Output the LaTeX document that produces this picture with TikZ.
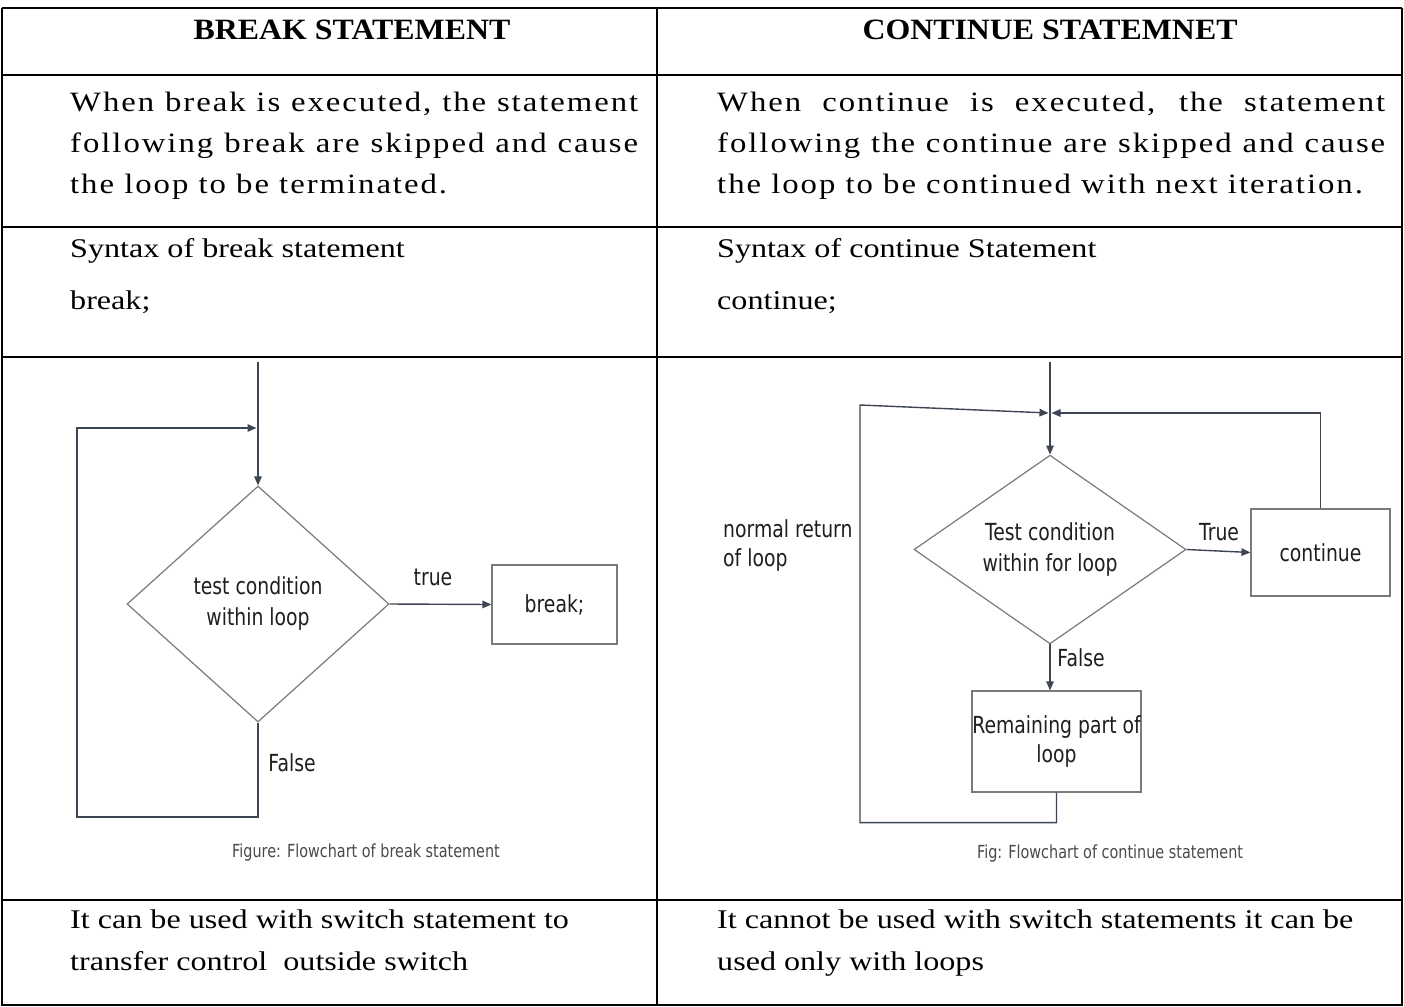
\documentclass[tikz,border=0pt]{standalone}
\usepackage{fontspec}
\setmainfont{Liberation Serif}[FakeStretch=1.19]
\newfontfamily\lsfont{Liberation Serif}[FakeStretch=1.17,LetterSpace=7]
\newfontfamily\hdrfont{Liberation Serif}[FakeStretch=1.08]
\newfontfamily\fcfont{DejaVu Sans}[FakeStretch=0.8]
\usetikzlibrary{shapes.geometric,arrows.meta}
\definecolor{lineC}{HTML}{3E4654}
\definecolor{boxC}{HTML}{7A7A7A}
\definecolor{txtC}{HTML}{1E1E1E}
\definecolor{capC}{HTML}{4A4A4A}
\tikzset{
  tabline/.style={line width=1.6pt,black},
  thickline/.style={line width=2.4pt,black},
  hdr/.style={font=\hdrfont\fontsize{29.5}{32}\selectfont\bfseries, anchor=base, inner sep=0pt},
  body/.style={font=\fontsize{27}{40}\selectfont, anchor=base west, inner sep=0pt},
  lsbody/.style={font=\lsfont\fontsize{28}{41}\selectfont, anchor=base west, inner sep=0pt},
  conn/.style={draw=lineC, line width=1.4pt},
  arr/.style={conn, -{Triangle[length=9pt,width=7.5pt]}},
  fclabel/.style={font=\fcfont\fontsize{23.5}{31}\selectfont, text=txtC, inner sep=0pt},
  diam/.style={shape=diamond, draw=boxC, line width=1.2pt, inner sep=0pt, align=center, fclabel},
  boxn/.style={draw=boxC, line width=1.2pt, inner sep=0pt, align=center, fclabel},
  capn/.style={font=\fcfont\fontsize{18}{20}\selectfont, text=capC, inner sep=0pt}
}
\begin{document}
\begin{tikzpicture}[x=1pt,y=-1pt]
\useasboundingbox (0,0) rectangle (1404,1006);
\fill[white] (0,0) rectangle (1404,1006);
% ---------- table ----------
\draw[thickline] (2,8) -- (1402,8);
\draw[tabline] (2,8) -- (2,1005) -- (1402,1005) -- (1402,8);
\draw[tabline] (657,8) -- (657,1005);
\draw[tabline] (2,75) -- (1402,75);
\draw[tabline] (2,227) -- (1402,227);
\draw[tabline] (2,357) -- (1402,357);
\draw[tabline] (2,900) -- (1402,900);
% ---------- header ----------
\node[hdr] (h1) at (352,40) {BREAK STATEMENT};
\node[hdr] (h2) at (1050,40) {CONTINUE STATEMNET};
% ---------- row 2 ----------
\node[lsbody] (l2a) at (70,111) {\makebox[568pt][s]{When break is executed, the statement}};
\node[lsbody] (l2b) at (70,152) {\makebox[568pt][s]{following break are skipped and cause}};
\node[lsbody] (l2c) at (70,193) {the loop to be terminated.};
\node[lsbody] (r2a) at (717,111) {\makebox[668pt][s]{When continue is executed, the statement}};
\node[lsbody] (r2b) at (717,152) {\makebox[668pt][s]{following the continue are skipped and cause}};
\node[lsbody] (r2c) at (717,193) {the loop to be continued with next iteration.};
% ---------- row 3 ----------
\node[body] (l3a) at (70,257) {Syntax of break statement};
\node[body] (l3b) at (70,309) {break;};
\node[body] (r3a) at (717,257) {Syntax of continue Statement};
\node[body] (r3b) at (717,309) {continue;};
% ---------- row 5 ----------
\node[body] (l5a) at (70,928) {It can be used with switch statement to};
\node[body] (l5b) at (70,970) {transfer control\ \ outside switch};
\node[body] (r5a) at (717,928) {It cannot be used with switch statements it can be};
\node[body] (r5b) at (717,970) {used only with loops};
% ---------- left flowchart ----------
\coordinate (s1) at (258,362);
\coordinate (j1) at (258,428);
\coordinate (lb1) at (77,817);
\node[diam, minimum width=262pt, minimum height=236pt] (d1) at (258,604) {test condition\\within loop};
\node[boxn, minimum width=125pt, minimum height=79pt] (b1) at (554.5,604.5) {break;};
\draw[arr] (s1) -- (d1.north);
\draw[arr] (d1.east) -- (b1.west);
\draw[arr] (d1.south) |- (lb1) |- ([xshift=-1.5pt]j1);
\node[fclabel] (t1) at (433,577) {true};
\node[fclabel] (f1) at (292,763) {False};
\node[capn] (c1) at (366,853) {Figure: Flowchart of break statement};
% ---------- right flowchart ----------
\coordinate (s2) at (1050,362);
\coordinate (j2) at (1050,413);
\coordinate (lt2) at (860,405);
\node[diam, minimum width=272pt, minimum height=169pt] (d2) at (1050,549.5) {Test condition\\within for loop};
\node[boxn, minimum width=139pt, minimum height=87pt] (c2) at (1320.5,552.5) {continue};
\node[boxn, minimum width=169pt, minimum height=101pt, font=\fcfont\fontsize{23.5}{29}\selectfont] (r2) at (1056.5,741.5) {Remaining part of\\loop};
\draw[arr] (s2) -- (d2.north);
\draw[arr] (d2.east) -- (c2.west);
\draw[arr] (d2.south) -- (d2.south |- r2.north);
\draw[arr] (r2.south) -- ++(0,30) -| (lt2) -- ([xshift=-1.5pt]j2);
\draw[arr] (c2.north) |- ([xshift=1.5pt]j2);
\node[fclabel] (t2) at (1219,532) {True};
\node[fclabel] (f2) at (1081,658) {False};
\node[fclabel, align=left, anchor=west, font=\fcfont\fontsize{23.5}{29}\selectfont] (n2) at (723,546) {normal return\\of loop};
\node[capn] (c3) at (1110,854) {Fig: Flowchart of continue statement};
\end{tikzpicture}
\end{document}
